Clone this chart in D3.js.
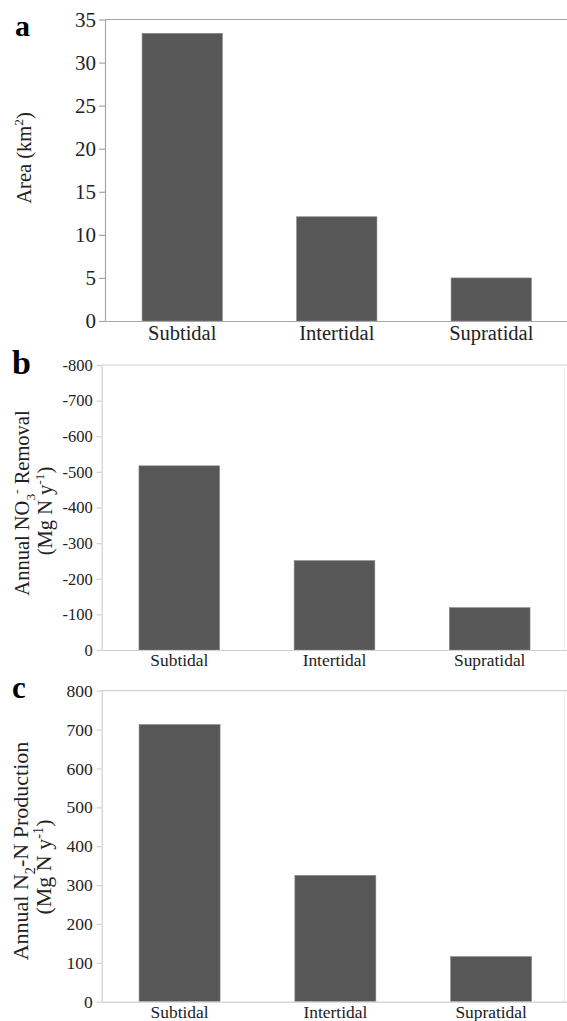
<!DOCTYPE html>
<meta charset="utf-8">
<style>
body { margin: 0; background: #fff; }
svg { display: block; }
svg text { font-family: "Liberation Serif", "Times New Roman", serif; }
.bar { fill: #575757; stroke: #8a8a8a; stroke-width: 0.6; }
.tick text { fill: #222; }
</style>
<body>
<script src="https://cdn.jsdelivr.net/npm/d3@7"></script>
<script>

// data
var categories = ["Subtidal", "Intertidal", "Supratidal"];
var areaValues = [33.4, 12.1, 5.0];          // km2
var no3Values  = [-517, -251, -119];         // Mg N y-1 (removal, negative)
var n2Values   = [713, 325, 116];            // Mg N y-1
var areaTicks  = [0, 5, 10, 15, 20, 25, 30, 35];
var no3Ticks   = [0, -100, -200, -300, -400, -500, -600, -700, -800];
var n2Ticks    = [0, 100, 200, 300, 400, 500, 600, 700, 800];

var svg = d3.select("body").append("svg")
    .attr("width", 567)
    .attr("height", 1021);

// writes a label made of pieces, some of them sub/superscript
function richText(sel, parts, size) {
  var shift = 0;
  parts.forEach(function(p) {
    var target = p.s == "sub" ? size * 0.3 : p.s == "sup" ? -size * 0.38 : 0;
    sel.append("tspan")
      .attr("dy", (target - shift) + "px")
      .style("font-size", p.s ? (size * 0.65) + "px" : size + "px")
      .text(p.t);
    shift = target;
  });
}

function drawPanel(o) {
  var g = svg.append("g");

  var x = d3.scaleBand()
      .domain(categories)
      .range([o.left, o.right])
      .paddingInner(0.48)
      .paddingOuter(0.24);
  var y = d3.scaleLinear()
      .domain([0, o.ticks[o.ticks.length - 1]])
      .range([o.bottom, o.top]);

  // frame: top line and faint right line
  g.append("line")
    .attr("x1", o.left).attr("x2", 567)
    .attr("y1", o.top).attr("y2", o.top)
    .attr("stroke", o.axisColor).attr("stroke-width", 1.2);
  if (o.rightLine) {
    g.append("line")
      .attr("x1", 564.5).attr("x2", 564.5)
      .attr("y1", o.top).attr("y2", o.bottom)
      .attr("stroke", "#eeeeee");
  }

  g.selectAll(".bar")
    .data(o.values)
    .enter().append("rect")
      .attr("class", "bar")
      .attr("x", function(d, i) { return x(categories[i]); })
      .attr("width", x.bandwidth())
      .attr("y", function(d) { return Math.min(y(d), y(0)); })
      .attr("height", function(d) { return Math.abs(y(0) - y(d)); });

  // y axis
  var ya = g.append("g")
    .attr("transform", "translate(" + o.left + ",0)")
    .call(d3.axisLeft(y).tickValues(o.ticks).tickSize(o.tickLen).tickSizeOuter(0)
      .tickPadding(o.tickPad).tickFormat(function(d) { return String(d); }));
  ya.attr("font-family", null).attr("font-size", null);
  ya.selectAll("path, line").attr("stroke", o.axisColor).attr("stroke-width", 1.2);
  ya.selectAll("text")
    .style("font-family", "'Liberation Serif', 'Times New Roman', serif")
    .style("font-size", o.tickFont + "px");

  // x axis
  var xa = g.append("g")
    .attr("transform", "translate(0," + o.bottom + ")")
    .call(d3.axisBottom(x).tickSize(0).tickSizeOuter(0).tickPadding(o.catPad));
  xa.attr("font-family", null).attr("font-size", null);
  xa.select(".domain").attr("stroke", o.axisColor).attr("stroke-width", 1.2);
  xa.selectAll("text")
    .style("font-family", "'Liberation Serif', 'Times New Roman', serif")
    .style("font-size", o.catFont + "px");

  // y label lines
  o.labels.forEach(function(l) {
    var t = g.append("text")
      .attr("transform", "translate(" + l.x + "," + l.y + ") rotate(-90)")
      .attr("text-anchor", "middle")
      .attr("fill", "#222");
    richText(t, l.parts, o.labelFont);
  });

  // panel letter
  g.append("text")
    .attr("x", o.letterX).attr("y", o.letterY)
    .style("font-size", o.letterFont + "px")
    .style("font-weight", "bold")
    .text(o.letter);
}

drawPanel({
  values: areaValues, ticks: areaTicks,
  left: 105, right: 568.5, top: 19.5, bottom: 321,
  axisColor: "#a6a6a6", tickLen: 6, tickPad: 3, tickFont: 21,
  catFont: 20.5, catPad: 4,
  labelFont: 20.5,
  labels: [{x: 31, y: 158, parts: [{t: "Area (km"}, {t: "2", s: "sup"}, {t: ")"}]}],
  letter: "a", letterX: 15, letterY: 36, letterFont: 30
});

drawPanel({
  values: no3Values, ticks: no3Ticks,
  left: 101.7, right: 567.3, top: 365, bottom: 650,
  axisColor: "#d0d0d0", tickLen: 5, tickPad: 4, tickFont: 16.5,
  catFont: 17.4, catPad: 4, rightLine: true,
  labelFont: 20.5,
  labels: [
    {x: 29, y: 503, parts: [{t: "Annual NO"}, {t: "3", s: "sub"}, {t: "-", s: "sup"}, {t: " Removal"}]},
    {x: 52, y: 511, parts: [{t: "(Mg N y"}, {t: "-1", s: "sup"}, {t: ")"}]}
  ],
  letter: "b", letterX: 12, letterY: 374, letterFont: 34
});

drawPanel({
  values: n2Values, ticks: n2Ticks,
  left: 101.7, right: 569, top: 690.7, bottom: 1001.7,
  axisColor: "#d0d0d0", tickLen: 5, tickPad: 4, tickFont: 17.5,
  catFont: 17.4, catPad: 4, rightLine: true,
  labelFont: 22,
  labels: [
    {x: 28, y: 851, parts: [{t: "Annual N"}, {t: "2", s: "sub"}, {t: "-N Production"}]},
    {x: 51, y: 867, parts: [{t: "(Mg N y"}, {t: "-1", s: "sup"}, {t: ")"}]}
  ],
  letter: "c", letterX: 12, letterY: 698, letterFont: 31
});

</script>
</body>
